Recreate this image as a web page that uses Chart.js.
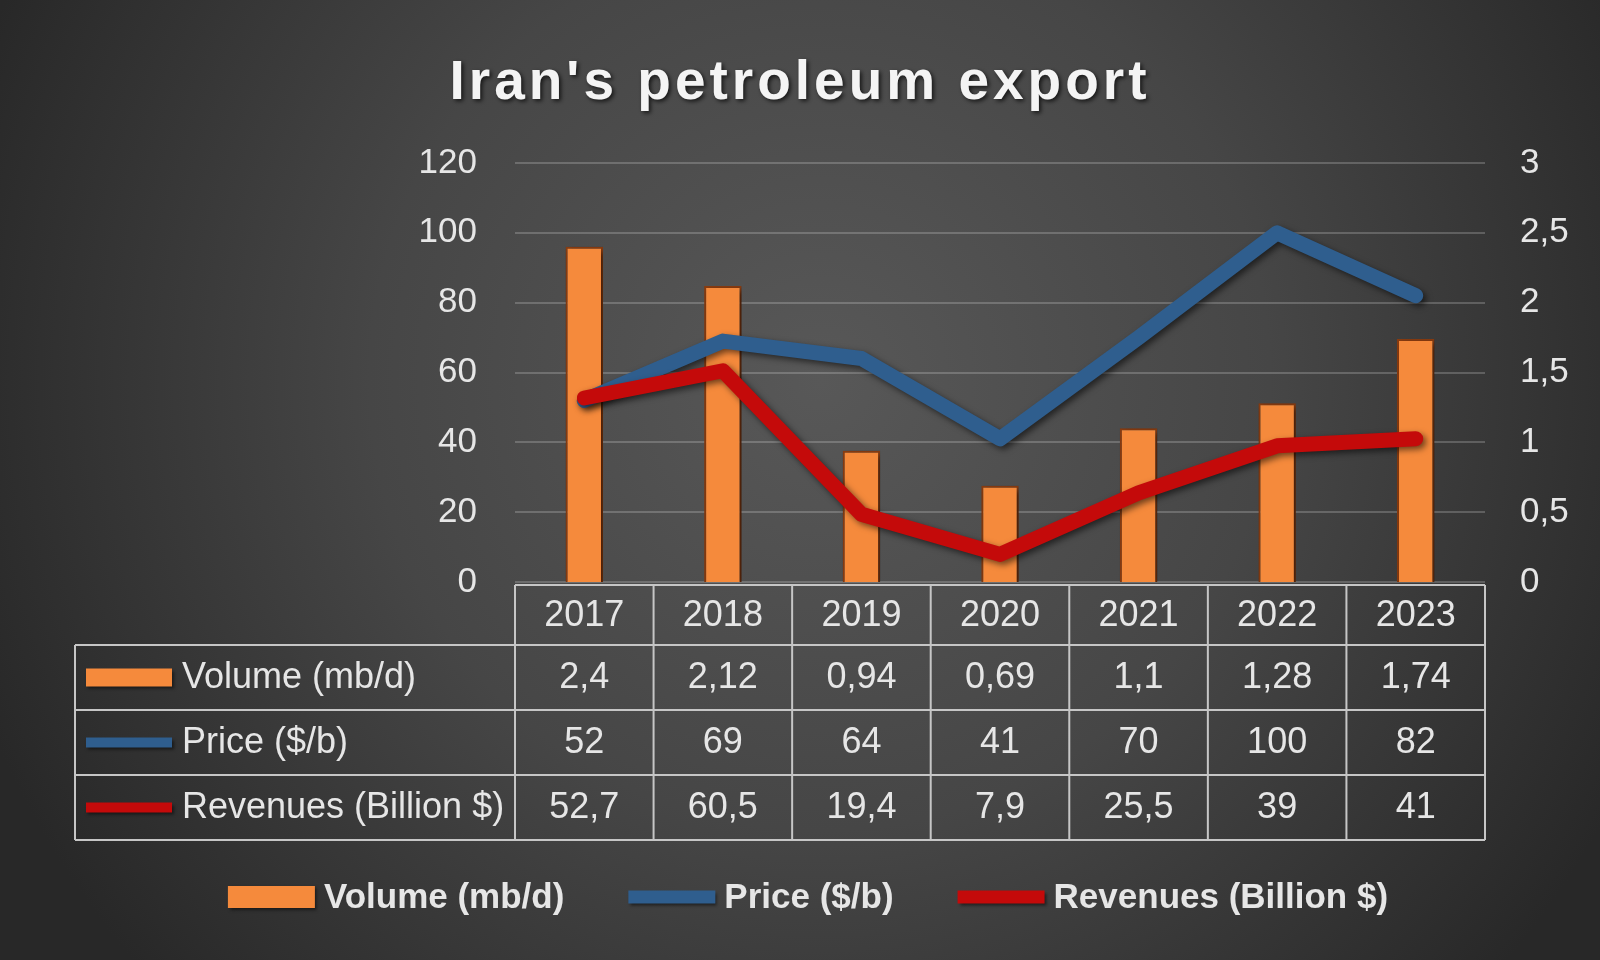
<!DOCTYPE html>
<html>
<head>
<meta charset="utf-8">
<script src="https://cdn.jsdelivr.net/npm/chart.js@4"></script>
<style>
  html, body { margin: 0; padding: 0; background: #333; }
  #chart { display: block; }
</style>
</head>
<body>
<canvas id="chart" width="1600" height="960"></canvas>
<script>
var title = "Iran's petroleum export";
var years = ['2017', '2018', '2019', '2020', '2021', '2022', '2023'];
var volume = [2.4, 2.12, 0.94, 0.69, 1.1, 1.28, 1.74];
var price = [52, 69, 64, 41, 70, 100, 82];
var revenues = [52.7, 60.5, 19.4, 7.9, 25.5, 39, 41];
var seriesNames = ['Volume (mb/d)', 'Price ($/b)', 'Revenues (Billion $)'];
var seriesColors = ['#f58a3c', '#2f5e8e', '#c40a0a'];

var FONT = '"Liberation Sans", Arial, sans-serif';
var TEXT = '#e6e6e6';

function comma(v) {
    return String(v).replace('.', ',');
}

// background, title, data table and legend are drawn around the chart area
var decor = {
    id: 'decor',
    beforeDraw: function (chart) {
        var ctx = chart.ctx;
        var g = ctx.createRadialGradient(820, 380, 0, 820, 380, 900);
        g.addColorStop(0, '#585858');
        g.addColorStop(0.5, '#464646');
        g.addColorStop(1, '#282828');
        ctx.save();
        ctx.fillStyle = g;
        ctx.fillRect(0, 0, chart.width, chart.height);

        ctx.font = 'bold 55px ' + FONT;
        ctx.letterSpacing = '4px';
        ctx.textAlign = 'center';
        ctx.textBaseline = 'alphabetic';
        ctx.shadowColor = 'rgba(0,0,0,0.7)';
        ctx.shadowOffsetX = 2;
        ctx.shadowOffsetY = 2;
        ctx.shadowBlur = 4;
        ctx.fillStyle = '#f4f4f4';
        ctx.fillText(title, 800, 99);
        ctx.restore();
    },
    beforeDatasetDraw: function (chart) {
        var ctx = chart.ctx;
        ctx.save();
        ctx.shadowColor = 'rgba(0,0,0,0.55)';
        ctx.shadowOffsetX = 3;
        ctx.shadowOffsetY = 3;
        ctx.shadowBlur = 6;
    },
    afterDatasetDraw: function (chart) {
        chart.ctx.restore();
    },
    afterDraw: function (chart) {
        var ctx = chart.ctx;
        var x = chart.scales.x;
        var area = chart.chartArea;
        var colW = x.getPixelForValue(1) - x.getPixelForValue(0);
        var left = x.getPixelForValue(0) - colW / 2;
        var right = x.getPixelForValue(years.length - 1) + colW / 2;
        var labelLeft = 75;
        var rows = [area.bottom + 3, area.bottom + 63, area.bottom + 128, area.bottom + 193, area.bottom + 258];
        var series = [volume, price, revenues];

        ctx.save();
        ctx.strokeStyle = '#c6c6c6';
        ctx.lineWidth = 2;
        ctx.beginPath();
        ctx.moveTo(left, rows[0]); ctx.lineTo(right, rows[0]);
        for (var r = 1; r < rows.length; r++) {
            ctx.moveTo(labelLeft, rows[r]); ctx.lineTo(right, rows[r]);
        }
        for (var i = 0; i <= years.length; i++) {
            var cx = left + i * colW;
            ctx.moveTo(cx, rows[0]); ctx.lineTo(cx, rows[4]);
        }
        ctx.moveTo(labelLeft, rows[1]); ctx.lineTo(labelLeft, rows[4]);
        ctx.stroke();

        ctx.fillStyle = TEXT;
        ctx.font = '36px ' + FONT;
        ctx.textAlign = 'center';
        ctx.textBaseline = 'middle';
        years.forEach(function (y, i) {
            ctx.fillText(y, x.getPixelForValue(i), (rows[0] + rows[1]) / 2 + 1);
        });
        series.forEach(function (vals, s) {
            var cy = (rows[s + 1] + rows[s + 2]) / 2 + 1;
            vals.forEach(function (v, i) {
                ctx.fillText(comma(v), x.getPixelForValue(i), cy);
            });
        });

        // row keys
        series.forEach(function (vals, s) {
            var cy = (rows[s + 1] + rows[s + 2]) / 2;
            drawKey(ctx, s, 86, cy, 86, s === 0 ? 18 : 10);
            ctx.fillStyle = TEXT;
            ctx.font = '36px ' + FONT;
            ctx.textAlign = 'left';
            ctx.fillText(seriesNames[s], 182, cy + 1);
        });

        // bottom legend
        ctx.font = 'bold 35px ' + FONT;
        var keyW = 87, keyGap = 9, itemGap = 64;
        var widths = seriesNames.map(function (n) { return ctx.measureText(n).width; });
        var total = widths.reduce(function (a, w) { return a + keyW + keyGap + w; }, 0) + itemGap * 2;
        var lx = 808 - total / 2;
        var ly = 897;
        seriesNames.forEach(function (n, s) {
            drawKey(ctx, s, lx, ly, keyW, s === 0 ? 22 : 13);
            ctx.fillStyle = TEXT;
            ctx.font = 'bold 35px ' + FONT;
            ctx.textAlign = 'left';
            ctx.textBaseline = 'middle';
            ctx.fillText(n, lx + keyW + keyGap, ly + 1);
            lx += keyW + keyGap + widths[s] + itemGap;
        });
        ctx.restore();
    }
};

function drawKey(ctx, s, x0, cy, w, h) {
    ctx.save();
    ctx.shadowColor = 'rgba(0,0,0,0.5)';
    ctx.shadowOffsetX = 2;
    ctx.shadowOffsetY = 2;
    ctx.shadowBlur = 3;
    if (s === 0) {
        ctx.fillStyle = seriesColors[0];
        ctx.fillRect(x0, cy - h / 2, w, h);
    } else {
        ctx.strokeStyle = seriesColors[s];
        ctx.lineWidth = h;
        ctx.beginPath();
        ctx.moveTo(x0, cy);
        ctx.lineTo(x0 + w, cy);
        ctx.stroke();
    }
    ctx.restore();
}

var ctx = document.getElementById('chart').getContext('2d');
var chart = new Chart(ctx, {
    type: 'bar',
    data: {
        labels: years,
        datasets: [{
            type: 'bar',
            label: seriesNames[0],
            data: volume,
            yAxisID: 'y2',
            backgroundColor: seriesColors[0],
            borderColor: '#8a3c10',
            borderWidth: 2,
            barPercentage: 1,
            categoryPercentage: 0.27,
            order: 3
        }, {
            type: 'line',
            label: seriesNames[1],
            data: price,
            yAxisID: 'y',
            borderColor: seriesColors[1],
            borderWidth: 15,
            pointRadius: 0,
            borderJoinStyle: 'round',
            borderCapStyle: 'round',
            tension: 0,
            order: 2
        }, {
            type: 'line',
            label: seriesNames[2],
            data: revenues,
            yAxisID: 'y',
            borderColor: seriesColors[2],
            borderWidth: 15,
            pointRadius: 0,
            borderJoinStyle: 'round',
            borderCapStyle: 'round',
            tension: 0,
            order: 1
        }]
    },
    options: {
        responsive: false,
        animation: false,
        layout: {
            padding: { top: 163, bottom: 378, left: 0, right: 0 }
        },
        plugins: {
            legend: { display: false },
            title: { display: false },
            tooltip: { enabled: false }
        },
        scales: {
            x: {
                display: false,
                offset: true
            },
            y: {
                position: 'left',
                min: 0,
                max: 120,
                afterFit: function (s) { s.width = 515; },
                ticks: {
                    stepSize: 20,
                    padding: 38,
                    color: TEXT,
                    font: { family: FONT, size: 35 }
                },
                grid: {
                    color: 'rgba(255,255,255,0.2)',
                    lineWidth: 2,
                    drawTicks: false
                },
                border: { display: false }
            },
            y2: {
                position: 'right',
                min: 0,
                max: 3,
                afterFit: function (s) { s.width = 115; },
                ticks: {
                    stepSize: 0.5,
                    padding: 35,
                    color: TEXT,
                    font: { family: FONT, size: 35 },
                    callback: function (v) { return comma(v); }
                },
                grid: { display: false, drawTicks: false },
                border: { display: false }
            }
        }
    },
    plugins: [decor]
});
</script>
</body>
</html>
